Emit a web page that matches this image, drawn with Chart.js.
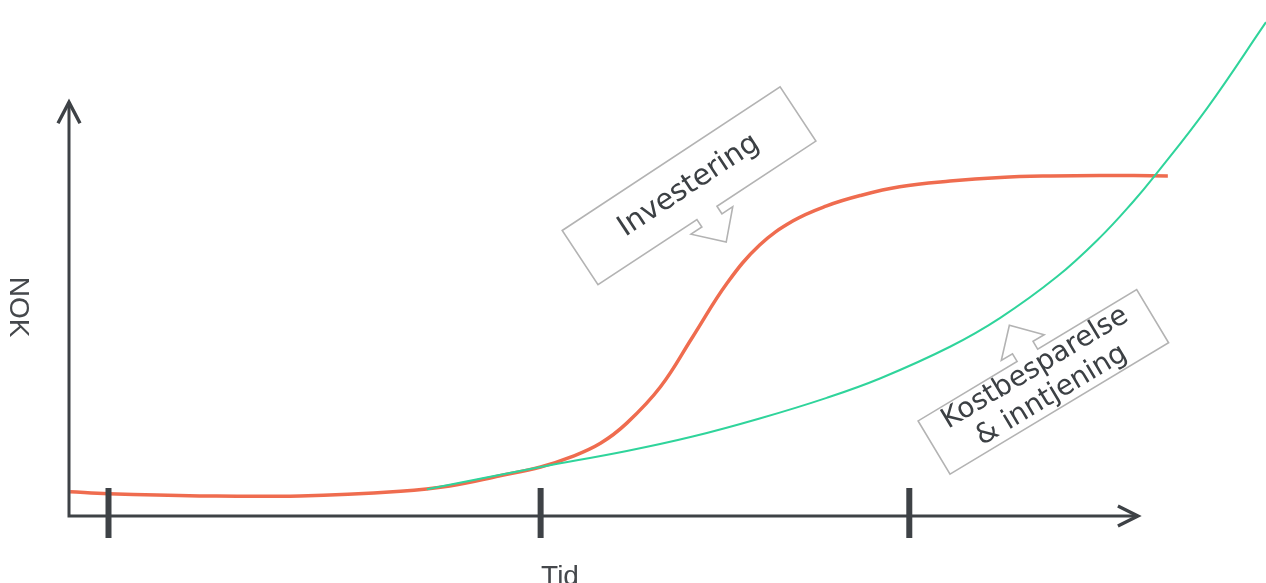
<!DOCTYPE html>
<html lang="no">
<head>
<meta charset="utf-8">
<title>Investering og kostbesparelse over tid</title>
<script src="https://cdn.jsdelivr.net/npm/chart.js@4.4.1/dist/chart.umd.min.js"></script>
<style>
  html, body { margin: 0; padding: 0; background: #ffffff; }
  #wrap { position: relative; width: 1266px; height: 583px; }
</style>
</head>
<body>
<div id="wrap"><canvas id="chart"></canvas></div>
<script>
// Time axis (0-100) and NOK axis (0-100), conceptual units
const investTid = [0.1, 3.3, 10.9, 19.3, 27.7, 31.8, 36.0, 39.4, 41.9, 44.4, 46.6, 49.4, 52.1, 55.0, 57.7, 60.5, 63.3, 66.1, 69.4, 73.6, 77.8, 82.0, 86.1, 91.8];
const investNOK = [4.7, 4.3, 3.9, 3.9, 4.8, 5.8, 7.8, 9.5, 11.4, 14.1, 18.0, 25.0, 34.7, 45.2, 52.5, 57.2, 60.1, 62.1, 63.8, 64.9, 65.6, 65.9, 66.0, 65.9];

const gevinstTid = [29.9, 39.4, 46.6, 52.1, 57.7, 63.3, 67.8, 73.6, 77.8, 82.5, 86.1, 88.9, 90.7, 95.1, 100];
const gevinstNOK = [5.2, 9.5, 12.6, 15.4, 18.9, 22.9, 26.7, 32.8, 38.4, 46.3, 53.9, 60.9, 65.9, 79.1, 95.7];

// Milestones marked on the time axis
const milepaeler = [3.3, 39.4, 70.2];

const aksetittelX = 'Tid';
const aksetittelY = 'NOK';
const etikettInvest = ['Investering'];
const etikettGevinst = ['Kostbesparelse', '& inntjening'];

const toPoints = (xs, ys) => xs.map((x, i) => ({ x, y: ys[i] }));

const AXIS_COLOR = '#3e4246';
const TEXT_COLOR = '#3c4044';

// Rotated callout box with a block arrow pointing at a curve
function drawCallout(ctx, cx, cy, angleDeg, w, h, lines, dir, fontPx, lineGap) {
  const shaftHalf = 12, shaftLen = 9, headHalf = 25, tipLen = 35;
  ctx.save();
  ctx.translate(cx, cy);
  ctx.rotate(angleDeg * Math.PI / 180);
  const e = dir * h / 2;
  ctx.beginPath();
  ctx.moveTo(-w / 2, -e);
  ctx.lineTo(w / 2, -e);
  ctx.lineTo(w / 2, e);
  ctx.lineTo(shaftHalf, e);
  ctx.lineTo(shaftHalf, e + dir * shaftLen);
  ctx.lineTo(headHalf, e + dir * shaftLen);
  ctx.lineTo(0, e + dir * tipLen);
  ctx.lineTo(-headHalf, e + dir * shaftLen);
  ctx.lineTo(-shaftHalf, e + dir * shaftLen);
  ctx.lineTo(-shaftHalf, e);
  ctx.lineTo(-w / 2, e);
  ctx.closePath();
  ctx.fillStyle = '#ffffff';
  ctx.fill();
  ctx.strokeStyle = '#b3b3b3';
  ctx.lineWidth = 1.6;
  ctx.lineJoin = 'miter';
  ctx.stroke();

  ctx.fillStyle = TEXT_COLOR;
  ctx.font = fontPx + 'px "DejaVu Sans", Verdana, sans-serif';
  ctx.textAlign = 'center';
  ctx.textBaseline = 'middle';
  const start = -(lines.length - 1) * lineGap / 2;
  lines.forEach((t, i) => ctx.fillText(t, 0, start + i * lineGap));
  ctx.restore();
}

const overlay = {
  id: 'overlay',
  afterDatasetsDraw(chart) {
    const { ctx, scales: { x, y } } = chart;
    const x0 = x.getPixelForValue(0);
    const y0 = y.getPixelForValue(0);
    const yTop = y.getPixelForValue(80.2);
    const xEnd = x.getPixelForValue(89.3);

    ctx.save();
    ctx.strokeStyle = AXIS_COLOR;
    ctx.lineCap = 'butt';
    ctx.lineJoin = 'miter';

    // axis lines
    ctx.lineWidth = 3;
    ctx.beginPath();
    ctx.moveTo(x0, yTop + 2);
    ctx.lineTo(x0, y0);
    ctx.lineTo(xEnd - 2, y0);
    ctx.stroke();

    // arrow heads
    ctx.lineWidth = 3.4;
    ctx.beginPath();
    ctx.moveTo(x0 - 11, yTop + 21);
    ctx.lineTo(x0, yTop);
    ctx.lineTo(x0 + 11, yTop + 21);
    ctx.moveTo(xEnd - 20, y0 - 10);
    ctx.lineTo(xEnd, y0);
    ctx.lineTo(xEnd - 20, y0 + 10);
    ctx.stroke();

    // milestone ticks
    ctx.lineWidth = 6;
    milepaeler.forEach(v => {
      const px = x.getPixelForValue(v);
      ctx.beginPath();
      ctx.moveTo(px, y0 - 28);
      ctx.lineTo(px, y0 + 22);
      ctx.stroke();
    });

    // axis titles
    ctx.fillStyle = '#45484c';
    ctx.font = '28px "Liberation Sans", Arial, sans-serif';
    ctx.textAlign = 'center';
    ctx.textBaseline = 'alphabetic';
    ctx.fillText(aksetittelX, 560, 585);

    ctx.save();
    ctx.translate(10, 307);
    ctx.rotate(Math.PI / 2);
    ctx.fillText(aksetittelY, 0, 0);
    ctx.restore();

    // callouts
    drawCallout(ctx, x.getPixelForValue(51.8), y.getPixelForValue(64.0), -33.4, 261, 65, etikettInvest, 1, 29, 0);
    drawCallout(ctx, x.getPixelForValue(81.4), y.getPixelForValue(26.0), -31, 255, 62, etikettGevinst, -1, 28, 32);
    ctx.restore();
  }
};

new Chart(document.getElementById('chart'), {
  type: 'line',
  data: {
    datasets: [
      {
        label: 'Investering',
        data: toPoints(investTid, investNOK),
        borderColor: '#ef6c4f',
        borderWidth: 3.5,
        pointRadius: 0,
        tension: 0.4,
        fill: false,
        order: 2
      },
      {
        label: 'Kostbesparelse & inntjening',
        data: toPoints(gevinstTid, gevinstNOK),
        borderColor: '#2fd49b',
        borderWidth: 2,
        pointRadius: 0,
        tension: 0.4,
        fill: false,
        order: 1
      }
    ]
  },
  options: {
    responsive: true,
    maintainAspectRatio: false,
    animation: false,
    layout: { padding: { left: 69, right: 0, top: 0, bottom: 67 } },
    plugins: { legend: { display: false }, tooltip: { enabled: false } },
    scales: {
      x: { type: 'linear', min: 0, max: 100, display: false },
      y: { type: 'linear', min: 0, max: 100, display: false }
    }
  },
  plugins: [overlay]
});
</script>
</body>
</html>
